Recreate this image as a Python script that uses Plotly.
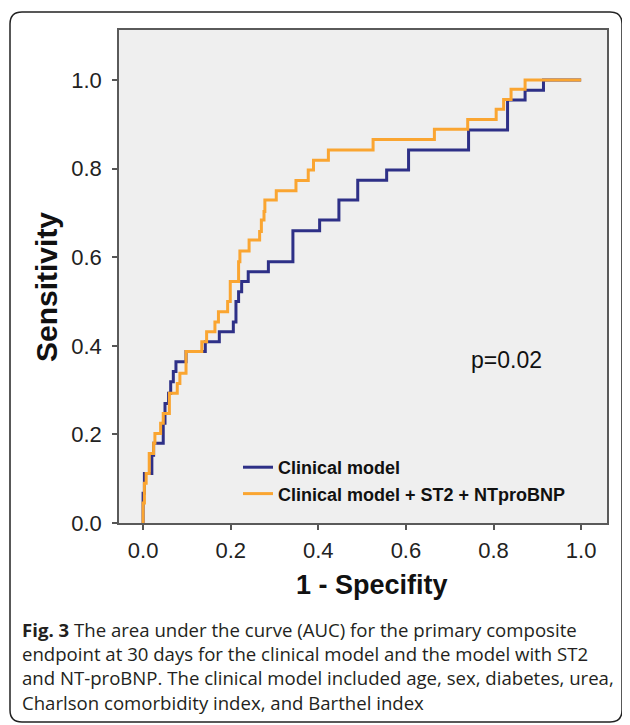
import plotly.graph_objects as go

# ROC staircase vertices (1 - specificity, sensitivity)
clinical_fpr = [0.0, 0.0, 0.003, 0.020, 0.024, 0.046, 0.050, 0.058, 0.063, 0.069, 0.075,
                0.098, 0.142, 0.174, 0.206, 0.212, 0.218, 0.225, 0.240, 0.286, 0.342,
                0.403, 0.447, 0.490, 0.556, 0.606, 0.743, 0.832, 0.872, 0.914, 1.0]
clinical_tpr = [0.0, 0.067, 0.112, 0.153, 0.180, 0.225, 0.270, 0.293, 0.319, 0.342, 0.364,
                0.387, 0.409, 0.432, 0.454, 0.500, 0.522, 0.545, 0.567, 0.590, 0.660,
                0.684, 0.729, 0.774, 0.797, 0.842, 0.887, 0.955, 0.977, 1.0, 1.0]

combined_fpr = [0.0, 0.0, 0.003, 0.007, 0.014, 0.024, 0.027, 0.040, 0.046, 0.060, 0.078,
                0.084, 0.098, 0.134, 0.145, 0.164, 0.172, 0.193, 0.199, 0.218, 0.221,
                0.242, 0.266, 0.270, 0.276, 0.278, 0.304, 0.349, 0.377, 0.389, 0.423,
                0.525, 0.665, 0.741, 0.806, 0.823, 0.840, 0.872, 1.0]
combined_tpr = [0.0, 0.045, 0.090, 0.112, 0.157, 0.180, 0.202, 0.225, 0.247, 0.293, 0.315,
                0.338, 0.387, 0.409, 0.432, 0.454, 0.477, 0.500, 0.545, 0.590, 0.614,
                0.639, 0.658, 0.684, 0.703, 0.729, 0.750, 0.773, 0.797, 0.819, 0.842,
                0.866, 0.889, 0.911, 0.934, 0.956, 0.979, 1.0, 1.0]

series_names = ["Clinical model", "Clinical model + ST2 + NTproBNP"]
tick_values = [0.0, 0.2, 0.4, 0.6, 0.8, 1.0]
tick_labels = ["0.0", "0.2", "0.4", "0.6", "0.8", "1.0"]
x_title = "1 - Specifity"
y_title = "Sensitivity"
p_text = "p=0.02"
caption = ("<b>Fig. 3</b> The area under the curve (AUC) for the primary composite<br>"
           "endpoint at 30 days for the clinical model and the model with ST2<br>"
           "and NT-proBNP. The clinical model included age, sex, diabetes, urea,<br>"
           "Charlson comorbidity index, and Barthel index")

# The page body has an 8px margin, so the figure is sized to fit the window from there.
OFF = 8
W, H = 630 - OFF, 725 - OFF
L, R, T, B = 119 - OFF, W - (607 - OFF), 30 - OFF, H - (523 - OFF)
pw, ph = W - L - R, H - T - B


def wx(x):
    """window pixel x -> paper x"""
    return (x - OFF - L) / pw


def wy(y):
    """window pixel y -> paper y"""
    return (H - B - (y - OFF)) / ph


fig = go.Figure()
fig.add_trace(go.Scatter(x=clinical_fpr, y=clinical_tpr, mode="lines", name=series_names[0],
                         line=dict(color="#2e3087", width=3, shape="hv")))
fig.add_trace(go.Scatter(x=combined_fpr, y=combined_tpr, mode="lines", name=series_names[1],
                         line=dict(color="#faa531", width=3, shape="hv")))

axis_font = dict(family="Liberation Sans, Arial, sans-serif", size=22, color="#222222")
common = dict(tickvals=tick_values, ticktext=tick_labels, ticks="outside", ticklen=5,
              tickwidth=1.5, tickcolor="#555555", showline=True, linecolor="#5a5a5a",
              linewidth=1.5, mirror=True, showgrid=False, zeroline=False, tickfont=axis_font)
fig.update_xaxes(range=[-0.055, 1.059], ticklabelstandoff=2, **common)
fig.update_yaxes(range=[0, 1.113], ticklabelstandoff=6, **common)

x0, x1, y0, y1 = wx(10), wx(622), wy(722), wy(12)
rx, ry = 12 / pw, 12 / ph
box = (f"M {x0+rx},{y1} L {x1-rx},{y1} Q {x1},{y1} {x1},{y1-ry} L {x1},{y0+ry} "
       f"Q {x1},{y0} {x1-rx},{y0} L {x0+rx},{y0} Q {x0},{y0} {x0},{y0+ry} "
       f"L {x0},{y1-ry} Q {x0},{y1} {x0+rx},{y1} Z")
fig.add_shape(type="path", path=box, xref="paper", yref="paper",
              line=dict(color="#222222", width=1.5), layer="below")

fig.add_annotation(text=x_title, xref="paper", yref="paper", x=wx(372), y=wy(585),
                   xanchor="center", yanchor="middle", showarrow=False,
                   font=dict(family="Liberation Sans, Arial", size=27, color="#111111",
                             weight="bold"))
fig.add_annotation(text=y_title, xref="paper", yref="paper", x=wx(46), y=wy(287),
                   xanchor="center", yanchor="middle", textangle=-90, showarrow=False,
                   font=dict(family="Liberation Sans, Arial", size=30, color="#111111",
                             weight="bold"))
fig.add_annotation(text=p_text, x=0.829, y=0.368, showarrow=False,
                   font=dict(family="Liberation Sans, Arial", size=23, color="#111111"))
fig.add_annotation(text=caption, xref="paper", yref="paper", x=wx(20), y=wy(615),
                   xanchor="left", yanchor="top", align="left", showarrow=False,
                   font=dict(family="Open Sans", size=18.6, color="#231f20"))

fig.update_layout(
    width=W, height=H, margin=dict(l=L, r=R, t=T, b=B),
    paper_bgcolor="white", plot_bgcolor="#efefef",
    showlegend=True,
    legend=dict(x=wx(238), y=wy(449), xanchor="left", yanchor="top",
                bgcolor="rgba(0,0,0,0)", itemwidth=30, tracegroupgap=0,
                font=dict(family="Liberation Sans, Arial", size=18, color="#111111",
                          weight="bold")),
)

fig.write_html("out.html")
